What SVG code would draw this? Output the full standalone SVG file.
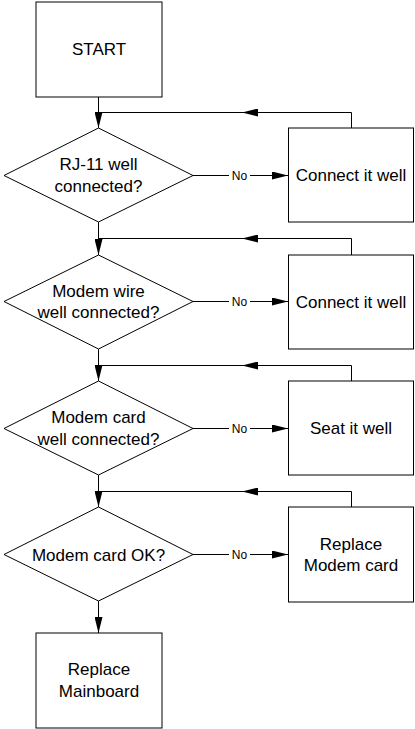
<svg xmlns="http://www.w3.org/2000/svg" width="415" height="729" viewBox="0 0 415 729">
<style>
.shape{fill:#fff;stroke:#000;stroke-width:1}
.ln{fill:none;stroke:#000;stroke-width:1}
.t{font-family:"Liberation Sans",Arial,sans-serif;font-size:17px;fill:#000;text-anchor:middle}
.lbl{font-family:"Liberation Sans",Arial,sans-serif;font-size:12px;fill:#000;text-anchor:middle}
</style>
<defs>
<marker id="ah" viewBox="0 0 16 8" refX="16" refY="4" markerWidth="16" markerHeight="8" markerUnits="userSpaceOnUse" orient="auto">
<path d="M0,0 L16,4 L0,8 Z" fill="#000"/>
</marker>
</defs>
<rect width="415" height="729" fill="#fff"/>
<g id="connectors">
<path class="ln" d="M98.5,97 V128" marker-end="url(#ah)"/>
<path class="ln" d="M98.5,222 V255" marker-end="url(#ah)"/>
<path class="ln" d="M98.5,349 V381" marker-end="url(#ah)"/>
<path class="ln" d="M98.5,475 V507" marker-end="url(#ah)"/>
<path class="ln" d="M98.5,601 V633" marker-end="url(#ah)"/>
<path class="ln" d="M351.5,128 V112.5 H242" marker-end="url(#ah)"/>
<path class="ln" d="M242,112.5 H98.5"/>
<path class="ln" d="M351.5,255 V238.5 H242" marker-end="url(#ah)"/>
<path class="ln" d="M242,238.5 H98.5"/>
<path class="ln" d="M351.5,381 V365.5 H242" marker-end="url(#ah)"/>
<path class="ln" d="M242,365.5 H98.5"/>
<path class="ln" d="M351.5,507 V491.5 H242" marker-end="url(#ah)"/>
<path class="ln" d="M242,491.5 H98.5"/>
<path class="ln" d="M193,175.5 H288" marker-end="url(#ah)"/>
<path class="ln" d="M193,301.5 H288" marker-end="url(#ah)"/>
<path class="ln" d="M193,428.5 H288" marker-end="url(#ah)"/>
<path class="ln" d="M193,554.5 H288" marker-end="url(#ah)"/>
<rect x="229" y="168" width="21" height="15" fill="#fff"/>
<rect x="229" y="294" width="21" height="15" fill="#fff"/>
<rect x="229" y="421" width="21" height="15" fill="#fff"/>
<rect x="229" y="547" width="21" height="15" fill="#fff"/>
<text class="lbl" x="239.5" y="180">No</text>
<text class="lbl" x="239.5" y="306">No</text>
<text class="lbl" x="239.5" y="433">No</text>
<text class="lbl" x="239.5" y="559">No</text>
</g>
<g id="start">
<rect class="shape" x="36" y="2" width="126" height="95"/>
<text class="t" x="99" y="55">START</text>
</g>
<g id="d1">
<polygon class="shape" points="98.5,128 193,175.5 98.5,222 4,175.5"/>
<text class="t" x="98.5" y="170">RJ-11 well</text>
<text class="t" x="98.5" y="192">connected?</text>
</g>
<g id="b1">
<rect class="shape" x="288.5" y="128" width="125" height="94"/>
<text class="t" x="351" y="181">Connect it well</text>
</g>
<g id="d2">
<polygon class="shape" points="98.5,255 193,301.5 98.5,349 4,301.5"/>
<text class="t" x="98.5" y="296.5">Modem wire</text>
<text class="t" x="98.5" y="318">well connected?</text>
</g>
<g id="b2">
<rect class="shape" x="288.5" y="255" width="125" height="94"/>
<text class="t" x="351" y="307.5">Connect it well</text>
</g>
<g id="d3">
<polygon class="shape" points="98.5,381 193,428.5 98.5,475 4,428.5"/>
<text class="t" x="98.5" y="423">Modem card</text>
<text class="t" x="98.5" y="445">well connected?</text>
</g>
<g id="b3">
<rect class="shape" x="288.5" y="381" width="125" height="94"/>
<text class="t" x="351" y="434">Seat it well</text>
</g>
<g id="d4">
<polygon class="shape" points="98.5,507 193,554.5 98.5,601 4,554.5"/>
<text class="t" x="98.5" y="560.5">Modem card OK?</text>
</g>
<g id="b4">
<rect class="shape" x="288.5" y="507" width="125" height="95"/>
<text class="t" x="351" y="550">Replace</text>
<text class="t" x="351" y="571">Modem card</text>
</g>
<g id="end">
<rect class="shape" x="36" y="633" width="126" height="95"/>
<text class="t" x="99" y="675">Replace</text>
<text class="t" x="99" y="696.5">Mainboard</text>
</g>
</svg>
